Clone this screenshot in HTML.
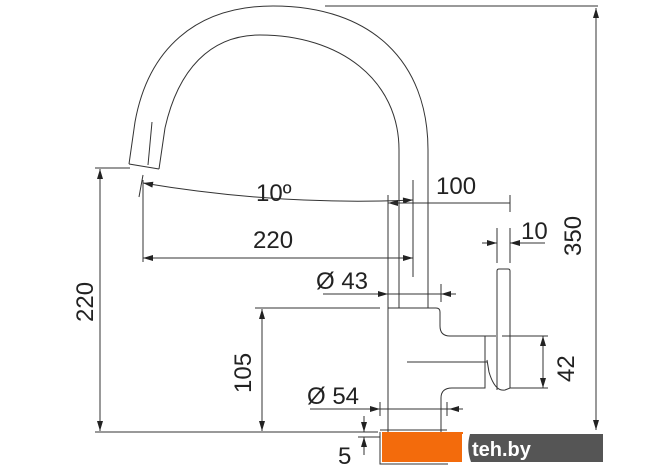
<html><body style="margin:0;background:#fff">
<svg width="670" height="471" xmlns="http://www.w3.org/2000/svg" style="font-family:'Liberation Sans',sans-serif">
<defs>
<marker id="a" viewBox="0 0 10 6" refX="10" refY="3" markerWidth="14" markerHeight="6" markerUnits="userSpaceOnUse" orient="auto-start-reverse"><path d="M0,0L10,3L0,6z" fill="#222"/></marker>
</defs>
<g fill="none" stroke="#333" stroke-width="1">
<path d="M129,164 L135,122 C148,50 195,6 273,6 C372,6 428,62 428,150 L428,308"/>
<path d="M159,169 L165,128 C178,70 210,35 260,35 C340,35 399,80 399,150 L399,308"/>
<path d="M129,164 L159,169"/>
<path d="M152,122 L148,165"/>
<path d="M325,6 H598"/>
<path d="M596,8 V430" marker-start="url(#a)" marker-end="url(#a)"/>
<path d="M139,197 L143,175"/>
<path d="M143,183 Q280,206 413,200" marker-start="url(#a)" marker-end="url(#a)"/>
<path d="M143,180 V262"/>
<path d="M143,258 H413" marker-start="url(#a)" marker-end="url(#a)"/>
<path d="M388,195 V432"/>
<path d="M413,180 V277"/>
<path d="M403,203 L388,203" marker-end="url(#a)"/>
<path d="M388,203 H510"/>
<path d="M510,195 V212"/>
<path d="M482,243 H497" marker-end="url(#a)"/>
<path d="M545,243 H510" marker-end="url(#a)"/>
<path d="M497,228 V263 M510,228 V263"/>
<path d="M497,390 V271 Q497,269 499,269 H508 Q510,269 510,271 V388"/>
<path d="M388,308 H436 Q440,308 440,312 V326 Q440,336 450,336 H496"/>
<path d="M485,336 V388 H452 Q441,388 441,398 V432"/>
<path d="M407,362 H487"/>
<path d="M487,360 L489,372 Q495,392 505,390 L510,388"/>
<path d="M502,336 H548 M510,388 H548"/>
<path d="M543,336 V388" marker-start="url(#a)" marker-end="url(#a)"/>
<path d="M323,294 H388" marker-end="url(#a)"/>
<path d="M456,294 H441" marker-end="url(#a)"/>
<path d="M388,294 H441 M441,284 V302"/>
<path d="M310,409 H380" marker-end="url(#a)"/>
<path d="M463,409 H449" marker-end="url(#a)"/>
<path d="M380,409 H449 M380,402 V416 M447,402 V416"/>
<path d="M255,308 H380"/>
<path d="M262,309 V431" marker-start="url(#a)" marker-end="url(#a)"/>
<path d="M95,168 H130"/>
<path d="M100,169 V431" marker-start="url(#a)" marker-end="url(#a)"/>
<path d="M95,432 H378"/>
<path d="M364,416 V432" marker-end="url(#a)"/>
<path d="M364,455 V437" marker-end="url(#a)"/>
<path d="M358,437 H380"/>
<path d="M380,430 H447 M380,432 V464 H448"/>
</g>
<rect x="382" y="432" width="81" height="30" fill="#f36b0c"/>
<rect x="463" y="434" width="140" height="28" fill="#555"/>
<path d="M462,434 L470,434 Q466,448 471,462 L462,462 Z" fill="#fff"/>
<text x="472" y="456" font-size="20" font-weight="bold" fill="#fff">teh.by</text>
<g font-size="24" fill="#222">
<text x="256" y="201">10º</text>
<text x="253" y="248">220</text>
<text x="436" y="194">100</text>
<text x="521" y="239">10</text>
<text x="316" y="289">Ø 43</text>
<text x="307" y="404">Ø 54</text>
<text x="338" y="464">5</text>
<text transform="translate(581,256) rotate(-90)">350</text>
<text transform="translate(574,382) rotate(-90)">42</text>
<text transform="translate(251,393) rotate(-90)">105</text>
<text transform="translate(93,322) rotate(-90)">220</text>
</g>
</svg>
</body></html>
